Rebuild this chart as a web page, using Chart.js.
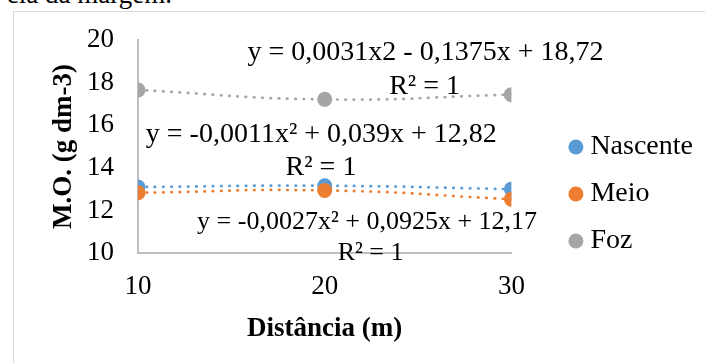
<!DOCTYPE html>
<html>
<head>
<meta charset="utf-8">
<script src="https://cdn.jsdelivr.net/npm/chart.js@4.4.1/dist/chart.umd.min.js"></script>
<style>
  html, body { margin: 0; padding: 0; background: #fff; overflow: hidden; }
  #wrap { position: relative; width: 705px; height: 363px; }
  #frame { position: absolute; left: 13px; top: 11px; width: 720px; height: 400px; border: 1px solid #d9d9d9; }
  #caption { position: absolute; left: 0; top: -19px; width: 172px; text-align: right; white-space: nowrap;
             font: 27px/27px 'Liberation Serif', serif; color: #000; }
  #chart { position: absolute; left: 0; top: 0; }
</style>
</head>
<body>
<div id="wrap">
  <div id="frame"></div>
  <div id="caption">cia da margem.</div>
  <canvas id="chart" width="705" height="363"></canvas>
</div>
<script>
const distances = [10, 20, 30];
const nascente = [13.10, 13.16, 13.00];
const meio = [12.83, 12.94, 12.53];
const foz = [17.66, 17.22, 17.44];
const seriesNames = ['Nascente', 'Meio', 'Foz'];
const seriesColors = ['#5b9bd5', '#ed7d31', '#a5a5a5'];

const eqTexts = [
  'y = 0,0031x2 - 0,1375x + 18,72', 'R² = 1',
  'y = -0,0011x² + 0,039x + 12,82', 'R² = 1',
  'y = -0,0027x² + 0,0925x + 12,17', 'R² = 1',
];
// label centres in data units (x, y) and font sizes
const eqPos = [
  [25.4, 19.4], [25.35, 17.8],
  [19.82, 15.55], [19.8, 14.0],
  [22.27, 11.45], [22.46, 10.0],
];
const eqSizes = [28, 28, 28, 28, 26, 26];

const FONT = "'Liberation Serif', serif";

function points(vals) {
  return distances.map((x, i) => ({ x, y: vals[i] }));
}

function series(i, vals, order) {
  return {
    label: seriesNames[i],
    data: points(vals),
    order,
    showLine: true,
    borderColor: seriesColors[i],
    backgroundColor: seriesColors[i],
    borderWidth: 2.7,
    borderDash: [0.5, 7.8],
    borderCapStyle: 'round',
    tension: 0.5,
    pointRadius: 7.5,
    pointHoverRadius: 7.5,
    pointBorderWidth: 0,
    pointStyle: 'circle',
  };
}

const eqLabels = {
  id: 'eqLabels',
  afterDatasetsDraw(chart) {
    const { ctx, scales: { x, y } } = chart;
    ctx.save();
    ctx.fillStyle = '#000';
    ctx.textAlign = 'center';
    ctx.textBaseline = 'middle';
    eqTexts.forEach((t, i) => {
      ctx.font = eqSizes[i] + 'px ' + FONT;
      ctx.fillText(t, x.getPixelForValue(eqPos[i][0]), y.getPixelForValue(eqPos[i][1]));
    });
    ctx.restore();
  },
};

new Chart(document.getElementById('chart'), {
  type: 'scatter',
  data: {
    datasets: [
      series(0, nascente, 1),
      series(1, meio, 0),
      series(2, foz, 2),
    ],
  },
  options: {
    responsive: false,
    animation: false,
    layout: { padding: { left: 0, top: 40, right: 2, bottom: 15 } },
    plugins: {
      tooltip: { enabled: false },
      legend: {
        position: 'right',
        labels: {
          usePointStyle: true,
          boxWidth: 1,
          boxHeight: 10.6,
          padding: 19,
          color: '#000',
          font: { family: FONT, size: 28 },
          sort: (a, b) => a.datasetIndex - b.datasetIndex,
        },
      },
    },
    scales: {
      x: {
        type: 'linear',
        min: 10,
        max: 30,
        ticks: { stepSize: 10, padding: 18, color: '#000', font: { family: FONT, size: 27 } },
        grid: { display: false, drawTicks: false },
        border: { display: true, color: '#bfbfbf', width: 2 },
        title: {
          display: true,
          text: 'Distância (m)',
          color: '#000',
          font: { family: FONT, size: 27, weight: 'bold' },
          padding: { top: 0, bottom: 3 },
        },
        afterFit(s) { s.height = 95; },
      },
      y: {
        min: 10,
        max: 20,
        ticks: { stepSize: 2, padding: 24, color: '#000', font: { family: FONT, size: 27 } },
        grid: { display: false, drawTicks: false },
        border: { display: true, color: '#bfbfbf', width: 2 },
        title: {
          display: true,
          text: 'M.O. (g dm-3)',
          color: '#000',
          font: { family: FONT, size: 27, weight: 'bold' },
          padding: { top: 48, bottom: 0 },
        },
        afterFit(s) { s.width = 138; },
      },
      gap: {
        type: 'linear',
        position: 'right',
        display: false,
        afterFit(s) { s.width = 45; },
      },
    },
  },
  plugins: [eqLabels],
});
</script>
</body>
</html>
